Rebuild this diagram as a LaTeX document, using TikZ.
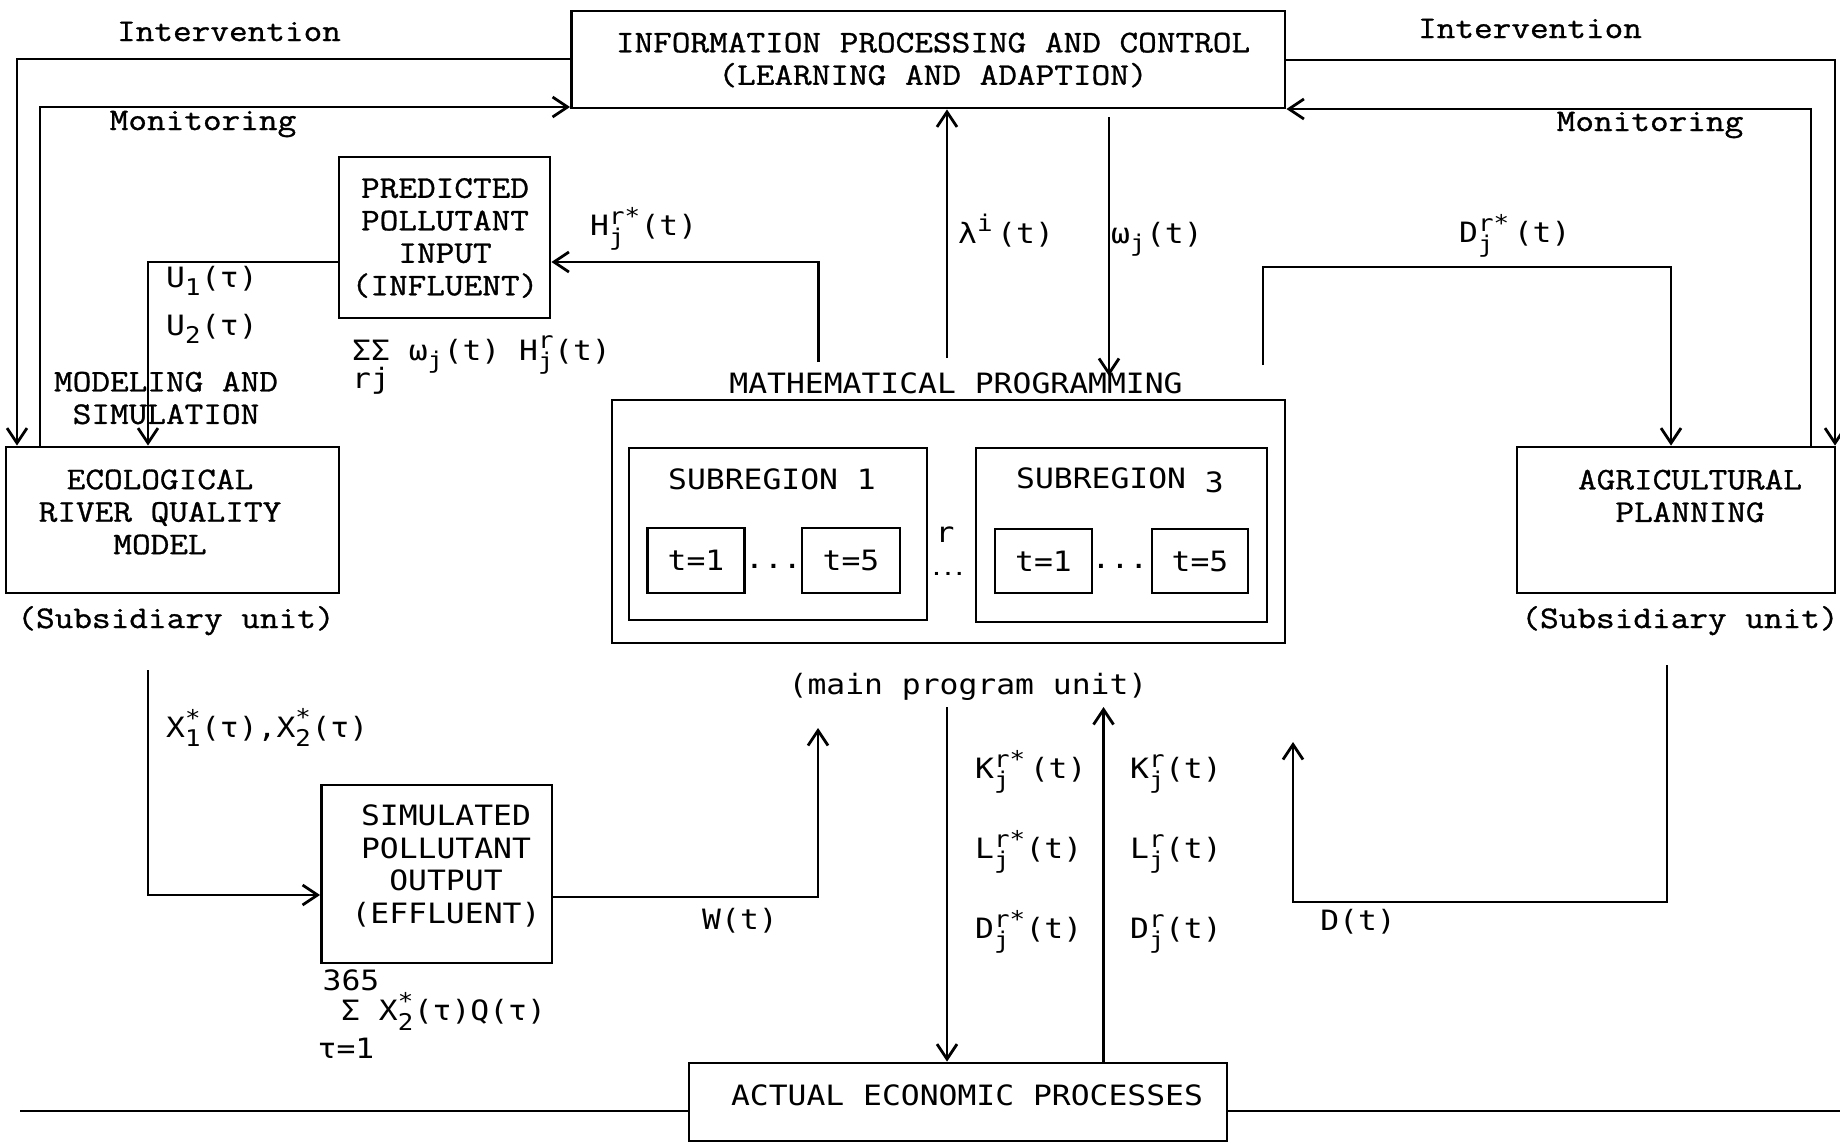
\documentclass[tikz,border=0pt]{standalone}
\usepackage{amsmath}
\usepackage{fontspec}
\setmainfont{Latin Modern Mono}[FakeStretch=1.15,FakeBold=1]
\newfontfamily\sansmono[FakeStretch=1.12]{DejaVu Sans Mono}
\usetikzlibrary{arrows.meta,calc}
\DeclareMathSizes{28}{28}{23}{17}
\DeclareMathSizes{31.5}{31.5}{25}{19}
\newcommand\tx[1]{\text{#1}}
\begin{document}
\begin{tikzpicture}[x=1pt,y=-1pt,
  box/.style={draw, line width=2.8pt, inner sep=0pt},
  ln/.style={line width=2.8pt},
  arr/.style={ln, -{Straight Barb[length=15pt,width=20pt]}},
  lbl/.style={inner sep=0pt, font=\fontsize{31.5}{32.5}\selectfont, align=center},
  slbl/.style={inner sep=0pt, font=\sansmono\fontsize{28}{32.5}\selectfont, align=center},
]
\useasboundingbox (0,0) rectangle (1840,1144);

% ---------- boxes ----------
\node[box, minimum width=713.5pt, minimum height=97pt] (info) at (928.25,59.5) {};
\node[box, minimum width=211pt, minimum height=161pt] (pred) at (444.5,237.5) {};
\node[box, minimum width=333pt, minimum height=146pt] (eco) at (172.5,520) {};
\node[box, minimum width=318pt, minimum height=146pt] (agr) at (1676,520) {};
\node[box, minimum width=673pt, minimum height=243pt] (mp) at (948.5,521.5) {};
\node[box, minimum width=298pt, minimum height=172pt] (sub1) at (778,534) {};
\node[box, minimum width=291pt, minimum height=174pt] (sub3) at (1121.5,535) {};
\node[box, slbl, minimum width=97.5pt, minimum height=65pt] (t11) at (696,560.5) {t=1};
\node[box, slbl, minimum width=98pt, minimum height=65pt] (t15) at (851,560.5) {t=5};
\node[box, slbl, minimum width=97pt, minimum height=64pt] (t31) at (1043.5,561) {t=1};
\node[box, slbl, minimum width=96pt, minimum height=64pt] (t35) at (1200,561) {t=5};
\node[box, minimum width=230.5pt, minimum height=178pt] (sim) at (436.75,874) {};
\node[box, minimum width=538pt, minimum height=78pt] (act) at (958,1102) {};

% ---------- box texts ----------
\node[lbl] (infot) at (933,60) {INFORMATION PROCESSING AND CONTROL\\(LEARNING AND ADAPTION)};
\node[lbl] (predt) at (445,238) {PREDICTED\\POLLUTANT\\INPUT\\(INFLUENT)};
\node[lbl] (ecot) at (160,512) {ECOLOGICAL\\RIVER QUALITY\\MODEL};
\node[lbl] (agrt) at (1690,496) {AGRICULTURAL\\PLANNING};
\node[slbl] (simt) at (446,866) {SIMULATED\\POLLUTANT\\OUTPUT\\(EFFLUENT)};
\node[slbl] (actt) at (967,1095) {ACTUAL ECONOMIC PROCESSES};
\node[slbl] (sub1t) at (772,479) {SUBREGION 1};
\node[slbl] (sub3t) at (1120,480) {SUBREGION \raisebox{-4pt}{3}};
\node[slbl, anchor=base] (dots1) at (773.5,568) {...};
\node[slbl, anchor=base] (dots3) at (1120,568) {...};
\node[slbl] (rl) at (945,535) {r};
\node[inner sep=0pt, font=\sansmono\bfseries\fontsize{17}{17}\selectfont] (rdots) at (948,574) {...};
\node[slbl, anchor=base] (mpl) at (956,393) {MATHEMATICAL PROGRAMMING};
\node[slbl, anchor=base] (mpu) at (968,694) {(main program unit)};

% ---------- plain labels ----------
\node[lbl, anchor=base] (intl) at (229,41) {Intervention};
\node[lbl, anchor=base] (intr) at (1530,38) {Intervention};
\node[lbl, anchor=base] (monl) at (203,130) {Monitoring};
\node[lbl, anchor=base] (monr) at (1650,131) {Monitoring};
\node[lbl, anchor=base] (subl) at (176,628) {(Subsidiary unit)};
\node[lbl, anchor=base] (subr) at (1680,628) {(Subsidiary unit)};
\node[lbl] (modt) at (166,398) {MODELING AND\\SIMULATION};

% ---------- math labels ----------
\node[slbl, anchor=base west] (hl) at (590,235) {$\tx{H}^{\tx{r*}}_{\tx{j}}\tx{(t)}$};
\node[slbl, anchor=base west] (laml) at (958,243) {$\tx{λ}^{\tx{i}}\,\tx{(t)}$};
\node[slbl, anchor=base west] (oml) at (1111,243) {$\tx{ω}_{\tx{j}}\tx{(t)}$};
\node[slbl, anchor=base west] (drl) at (1459,242) {$\tx{D}^{\tx{r*}}_{\tx{j}}\,\tx{(t)}$};
\node[slbl, anchor=base west] (u1) at (166,287) {$\tx{U}_{\tx{1}}\tx{(τ)}$};
\node[slbl, anchor=base west] (u2) at (166,335) {$\tx{U}_{\tx{2}}\tx{(τ)}$};
\node[slbl, anchor=base west] (sig) at (352,360) {$\tx{ΣΣ ω}_{\tx{j}}\tx{(t) H}^{\tx{r}}_{\tx{j}}\tx{(t)}$};
\node[slbl, anchor=base west] (rj) at (352,388) {rj};
\node[slbl, anchor=base west] (xl) at (166,737) {$\tx{X}^{\tx{*}}_{\tx{1}}\tx{(τ),X}^{\tx{*}}_{\tx{2}}\tx{(τ)}$};
\node[slbl] (wl) at (740,921) {W(t)};
\node[slbl] (n365) at (351,980) {365};
\node[slbl, anchor=base west] (sx) at (341,1020) {$\tx{Σ X}^{\tx{*}}_{\tx{2}}\tx{(τ)Q(τ)}$};
\node[slbl] (tau1) at (346,1048) {τ=1};
\node[slbl, anchor=base west] (k1) at (975,778) {$\tx{K}^{\tx{r*}}_{\tx{j}}\,\tx{(t)}$};
\node[slbl, anchor=base west] (l1) at (975,858) {$\tx{L}^{\tx{r*}}_{\tx{j}}\tx{(t)}$};
\node[slbl, anchor=base west] (d1) at (975,938) {$\tx{D}^{\tx{r*}}_{\tx{j}}\tx{(t)}$};
\node[slbl, anchor=base west] (k2) at (1130,778) {$\tx{K}^{\tx{r}}_{\tx{j}}\tx{(t)}$};
\node[slbl, anchor=base west] (l2) at (1130,858) {$\tx{L}^{\tx{r}}_{\tx{j}}\tx{(t)}$};
\node[slbl, anchor=base west] (d2) at (1130,938) {$\tx{D}^{\tx{r}}_{\tx{j}}\tx{(t)}$};
\node[slbl] (dl) at (1358,922) {D(t)};

% ---------- free ends ----------
\coordinate (hs) at (818.5,362);
\coordinate (ls) at (947,358);
\coordinate (ws) at (1109,117);
\coordinate (we) at (1109,376);
\coordinate (ds) at (1263,365);
\coordinate (es) at (148,670);
\coordinate (wend) at (818,728);
\coordinate (as) at (1667,665);
\coordinate (dend) at (1293,742);
\coordinate (ks) at (947,707);
\coordinate (ke) at (1103.5,707);
\coordinate (bl) at (20,1111);
\coordinate (br) at (1840,1111);

% ---------- connectors ----------
\draw[arr] (info.west |- 0,59) -- (17,59) -- (17,0 |- eco.north);
\draw[arr] (40,0 |- eco.north) -- (40,107) -- (info.west |- 0,107);
\draw[arr] (info.east |- 0,60) -- (1835,60) -- (1835,0 |- agr.north);
\draw[arr] (1811,0 |- agr.north) -- (1811,109) -- (info.east |- 0,109);
\draw[arr] (pred.west |- 0,262) -- (148,262) -- (148,0 |- eco.north);
\draw[arr] (hs) -- (818.5,262) -- (pred.east |- 0,262);
\draw[arr] (ls) -- (ls |- info.south);
\draw[arr] (ws) -- (we);
\draw[arr] (ds) -- (1263,267) -- (1671,267) -- (1671,0 |- agr.north);
\draw[arr] (es) -- (148,895) -- (sim.west |- 0,895);
\draw[arr] (sim.east |- 0,897) -- (818,897) -- (wend);
\draw[arr] (as) -- (1667,902) -- (1293,902) -- (dend);
\draw[arr] (ks) -- (ks |- act.north);
\draw[arr] (act.north -| ke) -- (ke);
\draw[ln] (bl) -- (act.west |- bl);
\draw[ln] (act.east |- br) -- (br);
\end{tikzpicture}
\end{document}
